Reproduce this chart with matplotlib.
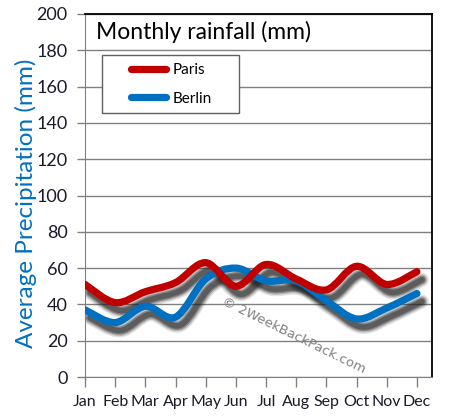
import matplotlib
matplotlib.use('Agg')
import matplotlib.pyplot as plt
from matplotlib.path import Path
from matplotlib.patches import PathPatch, Rectangle
from matplotlib.lines import Line2D
from matplotlib import transforms

months = ['Jan', 'Feb', 'Mar', 'Apr', 'May', 'Jun', 'Jul', 'Aug', 'Sep', 'Oct', 'Nov', 'Dec']
paris = [51, 41, 47, 52, 63, 50, 62, 54, 48, 61, 51, 58]
berlin = [37, 30, 39, 33, 54, 60, 53, 53, 42, 32, 38, 46]
yticks = list(range(0, 201, 20))

RED = '#c00000'
BLUE = '#0070c0'
FONT = 'Lato'


def smooth_path(xs, ys):
    # catmull-rom style bezier through the points, drawn by matplotlib
    pts = list(zip(xs, ys))
    verts = [pts[0]]
    codes = [Path.MOVETO]
    n = len(pts)
    for i in range(n - 1):
        p0 = pts[i - 1] if i > 0 else pts[i]
        p1 = pts[i]
        p2 = pts[i + 1]
        p3 = pts[i + 2] if i + 2 < n else pts[i + 1]
        c1 = (p1[0] + (p2[0] - p0[0]) / 6, p1[1] + (p2[1] - p0[1]) / 6)
        c2 = (p2[0] - (p3[0] - p1[0]) / 6, p2[1] - (p3[1] - p1[1]) / 6)
        verts += [c1, c2, p2]
        codes += [Path.CURVE4] * 3
    return Path(verts, codes)


fig = plt.figure(figsize=(4.52, 4.18), dpi=100)
ax = fig.add_axes([85 / 452, 41 / 418, 347 / 452, 363 / 418])

x = list(range(len(months)))
shadow_tr = transforms.offset_copy(ax.transData, fig, x=5, y=-8, units='dots')
for vals, col in [(berlin, BLUE), (paris, RED)]:
    p = smooth_path(x, vals)
    for lw, a in [(10, 0.12), (8, 0.2), (6, 0.35), (4, 0.4)]:
        ax.add_patch(PathPatch(p, fill=False, edgecolor='#202020', lw=lw, alpha=a,
                               capstyle='round', joinstyle='round',
                               transform=shadow_tr, zorder=2))
for vals, col in [(berlin, BLUE), (paris, RED)]:
    p = smooth_path(x, vals)
    ax.add_patch(PathPatch(p, fill=False, edgecolor=col, lw=5.2,
                           capstyle='round', joinstyle='round', zorder=3))

ax.set_xlim(0, 11.5)
ax.set_ylim(0, 200)
ax.set_xticks(x)
ax.set_xticklabels(months, fontsize=11.5, family=FONT, color='#1a1a2a')
ax.set_yticks(yticks)
ax.set_yticklabels([str(v) for v in yticks], fontsize=13, family=FONT, color='#1a1a2a')
ax.tick_params(axis='y', length=6, width=1, color='#808080', pad=6.5)
ax.tick_params(axis='x', length=7, width=1, color='#808080', pad=6)
ax.yaxis.grid(True, color='#808080', lw=1)
ax.set_axisbelow(True)
for s in ['left', 'bottom']:
    ax.spines[s].set_color('#808080')
for s in ['top', 'right']:
    ax.spines[s].set_color('black')
    ax.spines[s].set_linewidth(1.3)

ax.text(0.032, 0.95, 'Monthly rainfall (mm)', transform=ax.transAxes, fontsize=16.5,
        family=FONT, va='center', ha='left', color='black')

# legend box
ax.add_patch(Rectangle((17 / 347, (377 - 113) / 363), 137 / 347, 58 / 363,
                       transform=ax.transAxes, facecolor='white', edgecolor='#606060',
                       lw=1, zorder=4))
handles = [Line2D([], [], color=RED, lw=5.2, solid_capstyle='round'),
           Line2D([], [], color=BLUE, lw=5.2, solid_capstyle='round')]
leg = ax.legend(handles, ['Paris', 'Berlin'], loc='upper left',
                bbox_to_anchor=((131 - 85) / 347, (377 - 63) / 363), frameon=False,
                borderpad=0, borderaxespad=0, handlelength=2.3, handletextpad=0.4,
                labelspacing=0.95, prop={'family': FONT, 'size': 11})
leg.set_zorder(5)

ax.text(0.6, 0.115, '© 2WeekBackPack.com', transform=ax.transAxes, fontsize=9.5,
        family='DejaVu Sans', color='#808080', rotation=-26, ha='center', va='center',
        zorder=4)

fig.text(26 / 452, 0.513, 'Average Precipitation (mm)', rotation=90, fontsize=17.5,
         family=FONT, color=BLUE, ha='center', va='center')

fig.savefig('out.png', dpi=100)
